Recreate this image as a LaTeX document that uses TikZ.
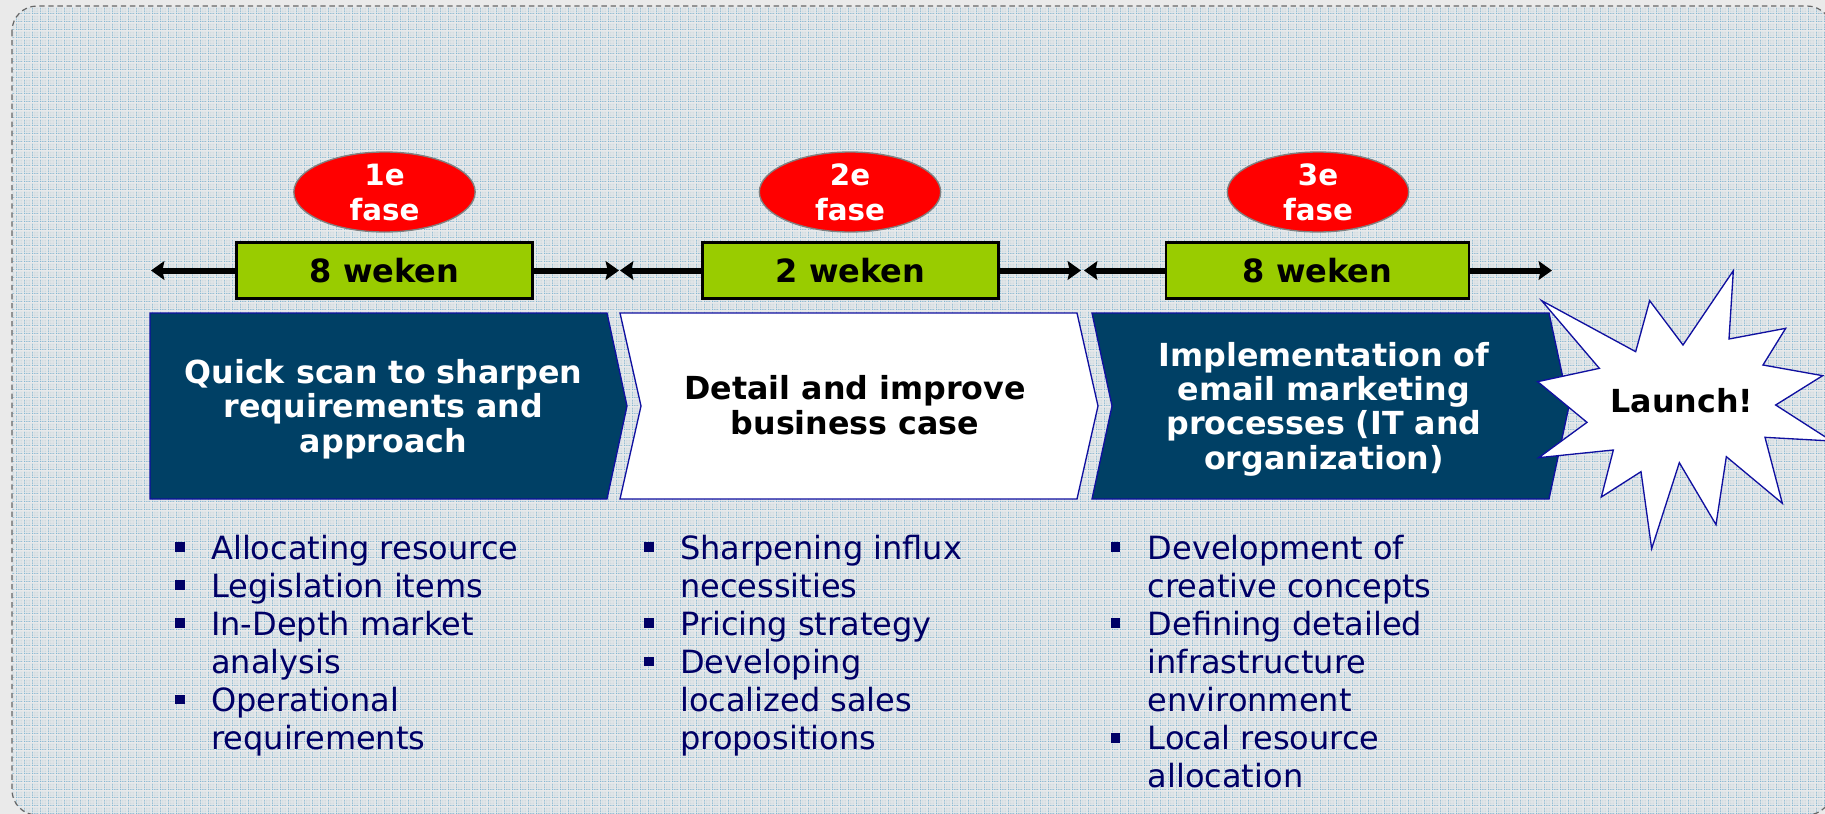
\documentclass[tikz,border=0pt]{standalone}
\usepackage{fontspec}
\setmainfont{DejaVu Sans}
\usetikzlibrary{arrows.meta,patterns,shapes.geometric}
\definecolor{panelbase}{HTML}{E4E8EA}
\definecolor{panelblue}{HTML}{7FB5D3}
\definecolor{paneldot}{HTML}{BFCDD4}
\definecolor{outer}{HTML}{EAEAEA}
\definecolor{navyblue}{HTML}{004065}
\definecolor{edgeblue}{HTML}{1010A0}
\definecolor{bodyblue}{HTML}{000066}
\definecolor{limegreen}{HTML}{99CC00}
\pgfdeclarepatterninherentlycolored{panelweave}{\pgfqpoint{0pt}{0pt}}{\pgfqpoint{6pt}{6pt}}{\pgfqpoint{6pt}{6pt}}{%
  \pgfsetfillcolor{panelbase}\pgfpathrectangle{\pgfqpoint{0pt}{0pt}}{\pgfqpoint{6pt}{6pt}}\pgfusepath{fill}%
  \pgfsetfillcolor{paneldot}%
  \foreach \i in {0,1.5,3,4.5}{\foreach \j in {0,1.5,3,4.5}{\pgfpathrectangle{\pgfqpoint{\i pt}{\j pt}}{\pgfqpoint{0.75pt}{0.75pt}}}}\pgfusepath{fill}%
  \pgfsetfillcolor{panelblue}%
  \foreach \i in {0,1.5,3,4.5}{\pgfpathrectangle{\pgfqpoint{\i pt}{0pt}}{\pgfqpoint{0.75pt}{0.75pt}}\pgfpathrectangle{\pgfqpoint{0pt}{\i pt}}{\pgfqpoint{0.75pt}{0.75pt}}}\pgfusepath{fill}%
}
\tikzset{
  panel/.style={draw=black!60,line width=0.9pt,dash pattern=on 4pt off 2.8pt,rounded corners=18.75pt,pattern=panelweave},
  chevdark/.style={draw=edgeblue,line width=1pt,fill=navyblue},
  chevlight/.style={draw=edgeblue,line width=1pt,fill=white},
  starshape/.style={draw=edgeblue,line width=1pt,fill=white},
  heading/.style={font=\fontsize{23.8}{25.7}\bfseries\selectfont,align=center,inner sep=0pt,anchor=base},
  weekbox/.style={draw=black,line width=1.8pt,fill=limegreen,minimum width=222pt,minimum height=42pt,inner sep=0pt,font=\fontsize{24}{24}\bfseries\selectfont},
  phase/.style={ellipse,draw=black!50,line width=1pt,fill=red,minimum width=136pt,minimum height=60pt,inner sep=0pt},
  phasetext/.style={font=\fontsize{22}{26.25}\bfseries\selectfont,text=white,align=center,inner sep=0pt,anchor=base},
  span/.style={line width=4.5pt,-{Stealth[length=10pt,width=14pt,inset=1.5pt]}},
  bodylist/.style={font=\fontsize{24}{28.5}\selectfont,text=bodyblue,align=left,inner sep=0pt,anchor=base west},
  bullet/.style={fill=bodyblue,inner sep=0pt,minimum size=7.2pt}
}
\begin{document}
\begin{tikzpicture}[x=0.75pt,y=-0.75pt]
\useasboundingbox (0,0) rectangle (1825,814);
\clip (0,0) rectangle (1825,814);
\fill[outer] (0,0) rectangle (1825,814);
\draw[panel] (12,6) rectangle (1832,815);

% chevrons
\draw[chevdark] (150,313) -- (607,313) -- (627,406) -- (607,499) -- (150,499) -- cycle;
\draw[chevlight] (620,313) -- (1077,313) -- (1098,406) -- (1077,499) -- (620,499) -- (641,406) -- cycle;
\draw[chevdark] (1092,313) -- (1549,313) -- (1569,406) -- (1549,499) -- (1092,499) -- (1112,406) -- cycle;

% star
\begin{scope}[shift={(1400,250)},x=0.25pt,y=-0.25pt]
\draw[starshape] (425,152) -- (707,305) -- (749,152) -- (849,285) -- (1000,62) -- (987,267) -- (1157,235) -- (1089,345) -- (1268,377) -- (1127,465) -- (1295,573) -- (1095,562) -- (1147,760) -- (979,620) -- (948,824) -- (838,638) -- (755,896) -- (723,665) -- (604,741) -- (640,600) -- (416,623) -- (561,517) -- (413,395) -- (598,355) -- cycle;
\end{scope}

% headings
\node[heading,text=white] (h1) at (383.5,452) {Quick scan to sharpen\\requirements and\\approach};
\node[heading,text=black] (h2) at (855,434) {Detail and improve\\business case};
\node[heading,text=white] (h3) at (1324,469) {Implementation of\\email marketing\\processes (IT and\\organization)};
\node[heading,text=black] (launch) at (1682,412.7) {Launch!};

% week boxes
\node[weekbox] (w1) at (384.5,270.5) {8 weken};
\node[weekbox] (w2) at (850.5,270.5) {2 weken};
\node[weekbox,minimum width=227pt] (w3) at (1317.5,270.5) {8 weken};
\coordinate (a1l) at (151,270.5);
\coordinate (a1r) at (619,270.5);
\coordinate (a2l) at (620,270.5);
\coordinate (a2r) at (1081,270.5);
\coordinate (a3l) at (1084,270.5);
\coordinate (a3r) at (1552,270.5);
\draw[span] (w1.west) -- (a1l);
\draw[span] (w1.east) -- (a1r);
\draw[span] (w2.west) -- (a2l);
\draw[span] (w2.east) -- (a2r);
\draw[span] (w3.west) -- (a3l);
\draw[span] (w3.east) -- (a3r);

% phase ellipses
\node[phase] (p1) at (384.5,192) {};
\node[phase] (p2) at (850,192) {};
\node[phase] (p3) at (1318,192) {};
\node[phasetext] (pt1) at (384.5,220) {1e\\fase};
\node[phasetext] (pt2) at (850,220) {2e\\fase};
\node[phasetext] (pt3) at (1318,220) {3e\\fase};

% lists
\node[bodylist] (l1) at (211,749.5) {Allocating resource\\Legislation items\\In-Depth market\\analysis\\Operational\\requirements};
\node[bodylist] (l2) at (680,749.5) {Sharpening influx\\necessities\\Pricing strategy\\Developing\\localized sales\\propositions};
\node[bodylist] (l3) at (1147.5,787.5) {Development of\\creative concepts\\Defining detailed\\infrastructure\\environment\\Local resource\\allocation};
\node[bullet] (b11) at (180,547) {};
\node[bullet] (b12) at (180,585) {};
\node[bullet] (b13) at (180,623) {};
\node[bullet] (b14) at (180,699.5) {};
\node[bullet] (b21) at (649,547) {};
\node[bullet] (b22) at (649,623) {};
\node[bullet] (b23) at (649,661.5) {};
\node[bullet] (b31) at (1115.5,547) {};
\node[bullet] (b32) at (1115.5,623) {};
\node[bullet] (b33) at (1115.5,738) {};
\end{tikzpicture}
\end{document}
